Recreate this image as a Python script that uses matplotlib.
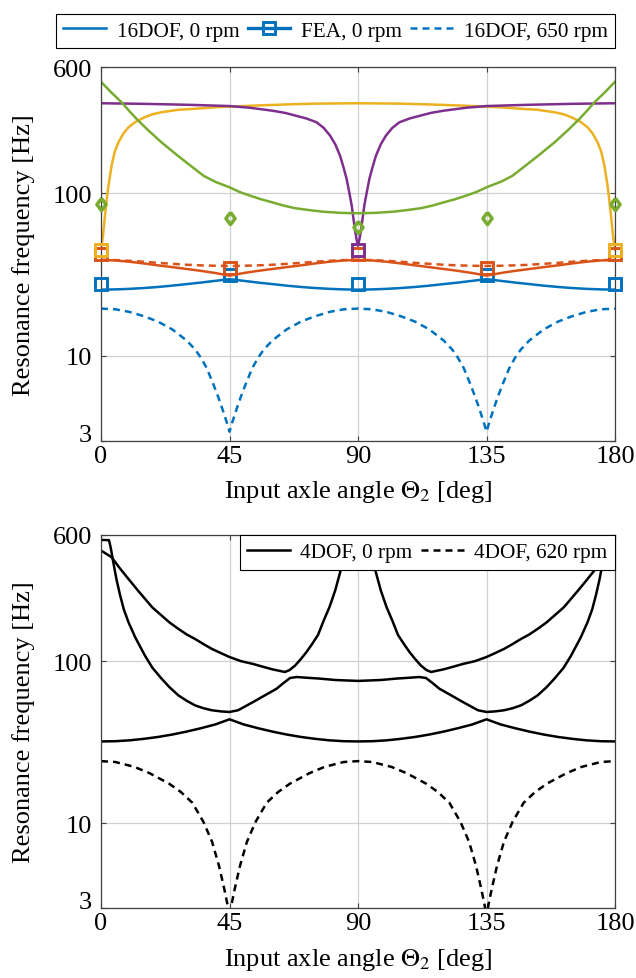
import matplotlib
matplotlib.use('agg')
import matplotlib.pyplot as plt
from matplotlib.lines import Line2D
from matplotlib.ticker import NullLocator

plt.rcParams['font.family'] = ['Liberation Serif', 'DejaVu Serif']
plt.rcParams['mathtext.fontset'] = 'stix'
plt.rcParams['font.size'] = 19

# MATLAB default line colours
BLUE = '#0072BD'
ORANGE = '#D95319'
YELLOW = '#EDB120'
PURPLE = '#7E2F8E'
GREEN = '#77AC30'

# ---- 16DOF model vs FEA (upper panel) ----
ang5 = list(range(0, 181, 5))

mode1_0rpm = [25.5, 25.6, 25.8, 26.1, 26.5, 27.0, 27.6, 28.2, 28.9, 29.6,
              28.9, 28.2, 27.6, 27.0, 26.5, 26.1, 25.8, 25.6, 25.5,
              25.6, 25.8, 26.1, 26.5, 27.0, 27.6, 28.2, 28.9, 29.6,
              28.9, 28.2, 27.6, 27.0, 26.5, 26.1, 25.8, 25.6, 25.5]
mode2_0rpm = [38.9, 38.6, 37.9, 37.0, 36.0, 35.1, 34.2, 33.3, 32.3, 31.1,
              32.3, 33.3, 34.2, 35.1, 36.0, 37.0, 37.9, 38.6, 38.9,
              38.6, 37.9, 37.0, 36.0, 35.1, 34.2, 33.3, 32.3, 31.1,
              32.3, 33.3, 34.2, 35.1, 36.0, 37.0, 37.9, 38.6, 38.9]
mode2_650rpm = [38.9, 38.8, 38.4, 37.9, 37.3, 36.8, 36.3, 36.0, 35.8, 35.7,
                35.8, 36.0, 36.3, 36.8, 37.3, 37.9, 38.4, 38.8, 38.9,
                38.8, 38.4, 37.9, 37.3, 36.8, 36.3, 36.0, 35.8, 35.7,
                35.8, 36.0, 36.3, 36.8, 37.3, 37.9, 38.4, 38.8, 38.9]

ang_m1_650 = [0, 5, 10, 15, 20, 25, 30, 33, 35, 37, 39.3, 41, 42.5, 44, 45,
              46, 47.5, 49, 50.7, 53, 55, 57, 60, 65, 70, 75, 80, 85, 90,
              95, 100, 105, 110, 115, 120, 123, 125, 127, 129.3, 131, 132.5, 134, 135,
              136, 137.5, 139, 140.7, 143, 145, 147, 150, 155, 160, 165, 170, 175, 180]
mode1_650rpm = [19.5, 19.3, 18.6, 17.5, 16.2, 14.5, 12.4, 10.9, 9.7, 8.4, 6.7, 5.6, 4.7, 3.9, 3.4,
                3.9, 4.7, 5.6, 6.7, 8.4, 9.7, 10.9, 12.4, 14.5, 16.2, 17.5, 18.6, 19.3, 19.5,
                19.3, 18.6, 17.5, 16.2, 14.5, 12.4, 10.9, 9.7, 8.4, 6.7, 5.6, 4.7, 3.9, 3.4,
                3.9, 4.7, 5.6, 6.7, 8.4, 9.7, 10.9, 12.4, 14.5, 16.2, 17.5, 18.6, 19.3, 19.5]

ang_m3 = [0, 0.7, 1.4, 2, 2.6, 3.7, 4.8, 6.1, 7.8, 9.6, 12, 15.4, 18, 21.2, 27, 33, 40,
          45, 55, 65, 75, 90,
          105, 115, 125, 135, 140, 147, 153, 158.8, 162, 164.6, 168, 170.4, 172.2,
          173.9, 175.2, 176.3, 177.4, 178, 178.6, 179.3, 180]
mode3_0rpm = [45, 55, 73, 91, 111, 148, 180, 206, 233, 255, 275, 295, 307, 316, 327, 332, 339,
              342, 348, 353, 357, 359,
              357, 353, 348, 342, 339, 332, 327, 316, 307, 295, 275, 255, 233,
              206, 180, 148, 111, 91, 73, 55, 45]

ang_m4 = [0, 15, 31, 45, 52, 60, 64.5, 68.5, 72, 75.5, 78, 80.2, 82, 83.7, 85, 86, 87,
          87.8, 88.9, 89.5, 90,
          90.5, 91.1, 92.2, 93, 94, 95, 96.3, 98, 99.8, 102, 104.5, 108, 111.5, 115.5,
          120, 128, 135, 149, 165, 180]
mode4_0rpm = [359, 356, 351, 345, 337, 323, 313, 300, 289, 274, 253, 227, 201, 171, 143, 123, 100,
              84, 60, 52, 47.6,
              52, 60, 84, 100, 123, 143, 171, 201, 227, 253, 274, 289, 300, 313,
              323, 337, 345, 351, 356, 359]

ang_m5 = [0, 3.5, 7.2, 10, 12.5, 16.5, 21.2, 27, 32.9, 36, 39.9, 45, 48.5, 52, 56, 60,
          64, 68, 73, 78, 84, 90,
          96, 102, 107, 112, 116, 120, 124, 128, 131.5, 135, 140.1, 144, 147.1, 153,
          158.8, 163.5, 167.5, 170, 172.8, 176.5, 180]
mode5_0rpm = [487, 420, 364, 320, 287, 245, 206, 170, 141, 128, 118, 109, 102, 97, 92, 88,
              84, 81, 78.8, 77, 75.8, 75.4,
              75.8, 77, 78.8, 81, 84, 88, 92, 97, 102, 109, 118, 128, 141, 170,
              206, 245, 287, 320, 364, 420, 487]

fea_ang = [0, 45, 90, 135, 180]
fea_mode1 = [27.7, 31.2, 27.7, 31.2, 27.7]
fea_mode2 = [42.4, 34.8, 42.4, 34.8, 42.4]
fea_mode3_ang = [0, 180]
fea_mode3 = [45, 45]
fea_mode4_ang = [90]
fea_mode4 = [45]
fea_mode5 = [86, 70.6, 62, 70.6, 86]

# ---- 4DOF model (lower panel) ----
low_0rpm = [32.0, 32.1, 32.5, 33.2, 34.1, 35.3, 36.8, 38.6, 40.7, 43.8,
            40.7, 38.6, 36.8, 35.3, 34.1, 33.2, 32.5, 32.1, 32.0,
            32.1, 32.5, 33.2, 34.1, 35.3, 36.8, 38.6, 40.7, 43.8,
            40.7, 38.6, 36.8, 35.3, 34.1, 33.2, 32.5, 32.1, 32.0]

ang_a = [0, 2.8, 3.4, 4.3, 5.4, 6.7, 8, 9.6, 12, 15.4, 18, 21.2, 24, 27.1, 30, 32.9, 35.8,
         38.8, 42, 45, 48, 53.3, 57, 61.5, 64, 66.2, 68.5, 72, 76.7, 82, 90,
         98, 103.3, 108, 111.5, 113.8, 116, 118.5, 123, 126.7, 132, 135, 138, 141.2,
         144.2, 147.1, 150, 152.9, 156, 158.8, 162, 164.6, 168, 170.4, 172, 173.3,
         174.6, 175.7, 176.6, 177.2, 180]
mid_0rpm = [558, 556, 500, 407, 320, 254, 208, 174, 140, 108, 91, 78, 69, 61.5, 57, 53.4, 51.3,
            49.8, 49.0, 48.6, 49.8, 56, 61, 67.6, 73.5, 78.7, 79.8, 79, 78, 76.5, 75.5,
            76.5, 78, 79, 79.8, 78.7, 73.5, 67.6, 61, 56, 49.8, 48.6, 49.0, 49.8,
            51.3, 53.4, 57, 61.5, 69, 78, 91, 108, 140, 174, 208, 254,
            320, 407, 500, 556, 558]

ang_b = [0, 3.7, 6.5, 9.6, 12.5, 15.4, 18, 21.2, 24, 27.1, 30, 32.9, 36, 38.8, 42, 45, 49,
         53.3, 57, 60, 64.4, 66, 68, 70, 72, 74, 76, 78, 80, 82, 83.7, 85, 86.5, 88,
         92, 93.5, 95, 96.3, 98, 100, 102, 104, 106, 108, 110, 112, 114, 115.6, 120, 123,
         126.7, 131, 135, 138, 141.2, 144, 147.1, 150, 152.9, 156, 158.8, 162, 164.6,
         167.5, 170.4, 173.5, 176.3, 180]
high_0rpm = [480, 437, 375, 321, 278, 242, 214, 191, 173, 158, 146, 137, 127, 119, 112, 106, 100,
             96, 92, 89, 85.7, 88, 94, 103, 114, 128, 145, 178, 215, 272, 350, 440, 600, 900,
             900, 600, 440, 350, 272, 215, 178, 145, 128, 114, 103, 94, 88, 85.7, 89, 92,
             96, 100, 106, 112, 119, 127, 137, 146, 158, 173, 191, 214, 242,
             278, 321, 375, 437, 480]

ang_620 = [0, 5, 11.7, 17, 23.8, 28, 32, 35.9, 38.9, 41.3, 43.1, 44.4, 45,
           45.6, 46.9, 48.7, 51.1, 54.1, 58, 62, 66.2, 73, 78.3, 85, 90,
           95, 101.7, 107, 113.8, 118, 122, 125.9, 128.9, 131.3, 133.1, 134.4, 135,
           135.6, 136.9, 138.7, 141.1, 144.1, 148, 152, 156.2, 163, 168.3, 175, 180]
low_620rpm = [24.2, 23.9, 22.3, 20.4, 17.6, 15.6, 13.4, 10.2, 7.7, 5.5, 4.0, 3.1, 2.4,
              3.1, 4.0, 5.5, 7.7, 10.2, 13.4, 15.6, 17.6, 20.4, 22.3, 23.9, 24.2,
              23.9, 22.3, 20.4, 17.6, 15.6, 13.4, 10.2, 7.7, 5.5, 4.0, 3.1, 2.4,
              3.1, 4.0, 5.5, 7.7, 10.2, 13.4, 15.6, 17.6, 20.4, 22.3, 23.9, 24.2]

yticks = [3, 10, 100, 600]
xticks = [0, 45, 90, 135, 180]

LW = 1.8
DASH = (2.8, 2.0)
DIAMOND = [(0, 1), (0.75, 0), (0, -1), (-0.75, 0), (0, 1)]


def style_axes(ax):
    ax.set_yscale('log')
    ax.set_xlim(0, 180)
    ax.set_ylim(3, 600)
    ax.set_xticks(xticks)
    ax.set_xticklabels([str(t) for t in xticks])
    ax.set_yticks(yticks)
    ax.set_yticklabels([str(t) for t in yticks])
    ax.yaxis.set_minor_locator(NullLocator())
    ax.grid(True, color='#d0d0d0', lw=0.9)
    ax.set_axisbelow(True)
    ax.tick_params(direction='in', length=3.5, width=0.8, top=True, right=True,
                   color='#404040', labelsize=19)
    ax.tick_params(axis='x', pad=3)
    ax.tick_params(axis='y', pad=6.5)
    for s in ax.spines.values():
        s.set_color('#404040')
        s.set_linewidth(0.9)
    ax.set_xlabel(r'Input axle angle $\Theta_2$ [deg]')
    ax.set_ylabel('Resonance frequency [Hz]')
    ax.yaxis.set_label_coords(-0.128, 0.5)
    ax.xaxis.set_label_coords(0.5, -0.1)
    # lowest y label sits on the axis line so it clears the "0"
    ax.yaxis.get_major_ticks()[0].label1.set_verticalalignment('baseline')


fig = plt.figure(figsize=(6.36, 9.79), dpi=100)
ax1 = fig.add_axes([0.1588, 0.549, 0.8082, 0.3815])
ax2 = fig.add_axes([0.1588, 0.0712, 0.8082, 0.3815])

# upper panel
ax1.plot(ang5, mode1_0rpm, color=BLUE, lw=LW)
ax1.plot(ang5, mode2_0rpm, color=ORANGE, lw=LW)
ax1.plot(ang_m3, mode3_0rpm, color=YELLOW, lw=LW)
ax1.plot(ang_m4, mode4_0rpm, color=PURPLE, lw=LW)
ax1.plot(ang_m5, mode5_0rpm, color=GREEN, lw=LW)
ax1.plot(ang_m1_650, mode1_650rpm, color=BLUE, lw=LW, ls=(0, DASH))
ax1.plot(ang5, mode2_650rpm, color=ORANGE, lw=LW, ls=(0, DASH))

sq = dict(ls='none', marker='s', ms=8.2, mew=2.1, mfc='none', clip_on=False, zorder=4)
ax1.plot(fea_ang, fea_mode1, mec=BLUE, **sq)
ax1.plot(fea_ang, fea_mode2, mec=ORANGE, **sq)
ax1.plot(fea_mode3_ang, fea_mode3, mec=YELLOW, **sq)
ax1.plot(fea_mode4_ang, fea_mode4, mec=PURPLE, **sq)
ax1.plot(fea_ang, fea_mode5, ls='none', marker=DIAMOND, ms=8.8, mew=2.5, mfc='none',
         mec=GREEN, clip_on=False, zorder=5)

style_axes(ax1)

handles1 = [Line2D([], [], color=BLUE, lw=LW),
            Line2D([], [], color=BLUE, lw=2.4, marker='s', ms=8.2, mew=2.1, mfc='none'),
            Line2D([], [], color=BLUE, lw=LW, ls=(0, DASH))]
leg1 = ax1.legend(handles1, ['16DOF, 0 rpm', 'FEA, 0 rpm', '16DOF, 650 rpm'],
                  ncol=3, loc='lower right', bbox_to_anchor=(1.0, 1.05),
                  borderaxespad=0, fontsize=15.3, handlelength=2.0, handletextpad=0.5,
                  columnspacing=0.4, borderpad=0.35, fancybox=False, framealpha=1,
                  edgecolor='black')
leg1.get_frame().set_linewidth(0.8)

# lower panel
ax2.plot(ang5, low_0rpm, color='black', lw=LW)
ax2.plot(ang_a, mid_0rpm, color='black', lw=LW)
ax2.plot(ang_b, high_0rpm, color='black', lw=LW)
ax2.plot(ang_620, low_620rpm, color='black', lw=LW, ls=(0, DASH))

style_axes(ax2)

handles2 = [Line2D([], [], color='black', lw=LW),
            Line2D([], [], color='black', lw=LW, ls=(0, DASH))]
leg2 = ax2.legend(handles2, ['4DOF, 0 rpm', '4DOF, 620 rpm'], ncol=2,
                  loc='upper right', bbox_to_anchor=(1.0, 1.0), borderaxespad=0,
                  fontsize=15.3, handlelength=2.0, handletextpad=0.5,
                  columnspacing=0.4, borderpad=0.35, fancybox=False, framealpha=1,
                  edgecolor='black')
leg2.get_frame().set_linewidth(0.8)
leg2.set_zorder(10)

fig.savefig('out.png', dpi=100)
